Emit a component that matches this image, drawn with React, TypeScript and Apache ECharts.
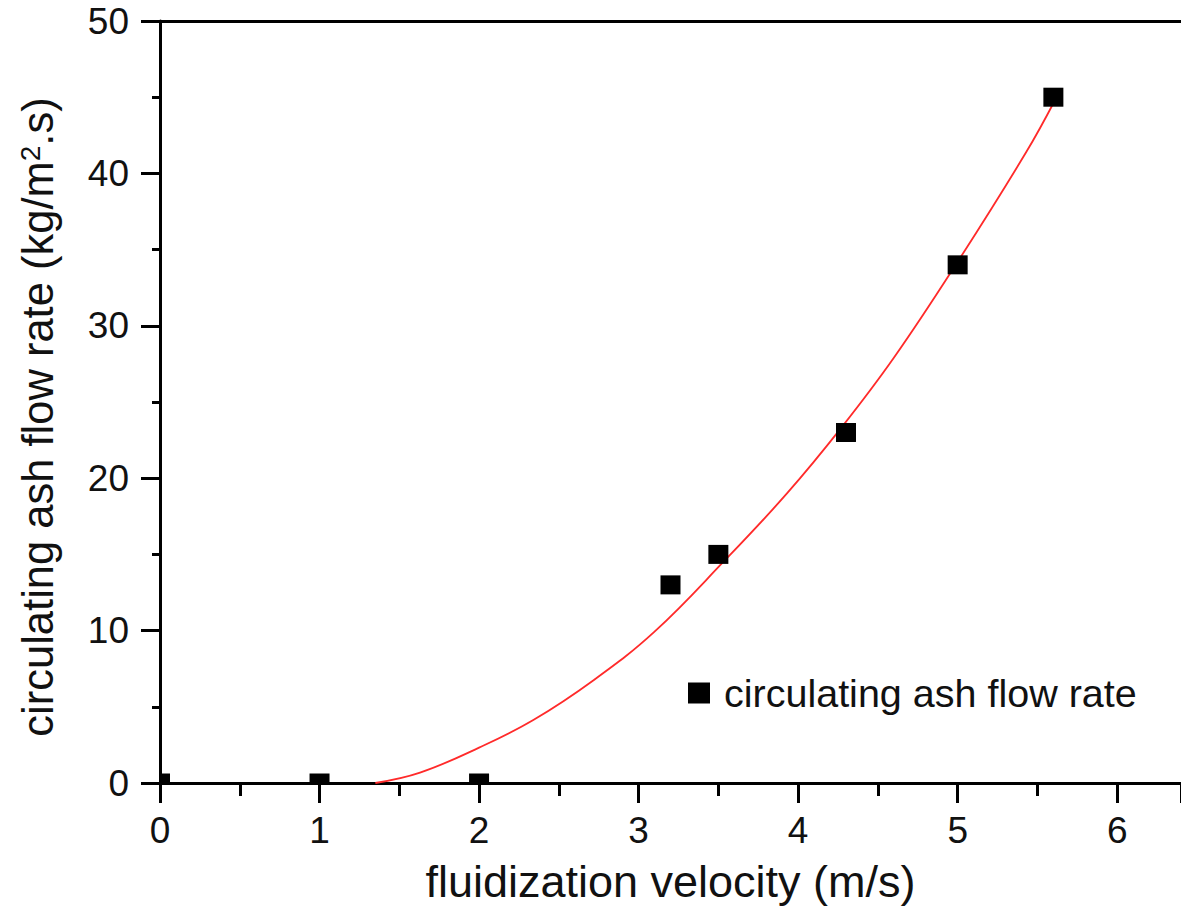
import React, { useEffect, useRef } from "react";
import * as echarts from "echarts";

// measured data
const velocity = [0, 1, 2, 3.2, 3.5, 4.3, 5.0, 5.6];
const ashFlow = [0, 0, 0, 13, 15, 23, 34, 45];

// fitted curve
const fitX = [1.35, 1.63, 2.0, 2.34, 2.72, 3.1, 3.54, 3.93, 4.27, 4.6, 5.0, 5.43, 5.61];
const fitY = [0, 0.68, 2.32, 4.13, 6.76, 9.93, 14.6, 19.0, 23.3, 27.9, 34.2, 41.4, 44.8];

const seriesName = "circulating ash flow rate";
const xTitle = "fluidization velocity (m/s)";
const yTitle = "circulating ash flow rate (kg/m{sup|2}.s)";

const FONT = "'Liberation Sans', Arial, sans-serif";
const TXT = "#111";

export default function App() {
  const ref = useRef<HTMLDivElement>(null);
  useEffect(() => {
    const chart = echarts.init(ref.current!, null, { renderer: "svg" });
    const points = velocity.map((v, i) => [v, ashFlow[i]]);
    const fit = fitX.map((v, i) => [v, fitY[i]]);
    chart.setOption({
      animation: false,
      backgroundColor: "#fff",
      textStyle: { fontFamily: FONT },
      grid: { left: 160, top: 21, right: 0, bottom: 126, containLabel: false },
      legend: {
        show: true,
        left: 688,
        top: 673,
        padding: 0,
        itemWidth: 22,
        itemHeight: 21,
        data: [{ name: seriesName, icon: "rect" }],
        textStyle: { fontSize: 39.5, color: TXT, fontFamily: FONT, padding: [0, 0, 0, 9] },
      },
      xAxis: [
        {
          type: "value",
          position: "bottom",
          min: 0,
          max: 6.4,
          interval: 1,
          name: xTitle,
          nameLocation: "middle",
          nameGap: 76,
          nameTextStyle: { fontSize: 45, color: TXT, fontFamily: FONT },
          axisLine: { show: true, onZero: false, lineStyle: { color: "#000", width: 3 } },
          axisTick: { show: true, inside: false, length: 20, lineStyle: { color: "#000", width: 3 } },
          minorTick: { show: true, splitNumber: 2, length: 13, lineStyle: { color: "#000", width: 3 } },
          axisLabel: {
            margin: 29,
            fontSize: 37,
            color: TXT,
            fontFamily: FONT,
            showMaxLabel: false,
            formatter: (v: number) => (Number.isInteger(v) ? String(v) : ""),
          },
          splitLine: { show: false },
          minorSplitLine: { show: false },
        },
        {
          type: "value",
          position: "top",
          min: 0,
          max: 6.4,
          axisLine: { show: true, onZero: false, lineStyle: { color: "#000", width: 3 } },
          axisTick: { show: false },
          axisLabel: { show: false },
          splitLine: { show: false },
        },
      ],
      yAxis: {
        type: "value",
        min: 0,
        max: 50,
        interval: 10,
        name: yTitle,
        nameLocation: "middle",
        nameGap: 100,
        nameTextStyle: {
          fontSize: 43.5,
          color: TXT,
          fontFamily: FONT,
          padding: [0, 30, 0, 0],
          rich: {
            sup: { fontSize: 28, color: TXT, fontFamily: FONT, verticalAlign: "top", padding: [0, 0, 10, 0] },
          },
        },
        axisLine: { show: true, onZero: false, lineStyle: { color: "#000", width: 3 } },
        axisTick: { show: true, inside: false, length: 19, lineStyle: { color: "#000", width: 3 } },
        minorTick: { show: true, splitNumber: 2, length: 8, lineStyle: { color: "#000", width: 3 } },
        axisLabel: { margin: 31, fontSize: 37, color: TXT, fontFamily: FONT },
        splitLine: { show: false },
      },
      series: [
        {
          name: "fit",
          type: "line",
          data: fit,
          smooth: 0.4,
          showSymbol: false,
          symbol: "none",
          clip: true,
          z: 3,
          lineStyle: { color: "#ff2a2a", width: 1.8 },
        },
        {
          name: seriesName,
          type: "custom",
          data: points,
          clip: true,
          z: 4,
          itemStyle: { color: "#000" },
          encode: { x: 0, y: 1 },
          renderItem: (params: any, api: any) => {
            const p = api.coord([api.value(0), api.value(1)]);
            return {
              type: "rect",
              shape: { x: p[0] - 10, y: p[1] - 9.5, width: 20, height: 19 },
              style: { fill: "#000" },
            };
          },
        },
      ],
    });
    return () => chart.dispose();
  }, []);
  return (
    <div
      ref={ref}
      style={{ position: "absolute", left: 0, top: 0, width: 1181, height: 909, background: "#fff" }}
    />
  );
}
